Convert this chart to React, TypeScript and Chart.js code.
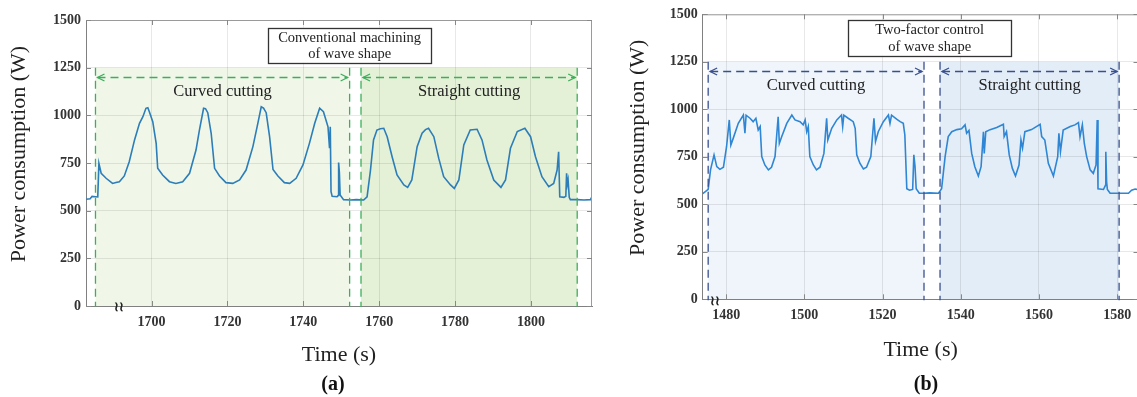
import React, { useEffect, useRef } from 'react';
import { Chart, registerables } from 'chart.js';

Chart.register(...registerables);

// ---------------- data ----------------
const leftTime = [
  1682.7, 1683.8, 1684.3, 1685.8, 1686.1, 1686.7, 1688.0, 1689.7, 1690.6, 1691.5, 1692.8, 1694.1, 1695.5, 1696.8,
  1697.7, 1698.5, 1699.0, 1699.4, 1700.3, 1701.2, 1701.6, 1702.9, 1704.7, 1706.4, 1708.2, 1710.0, 1711.7, 1712.6,
  1713.7, 1714.2, 1714.8, 1715.7, 1716.6, 1717.9, 1719.6, 1721.4, 1723.2, 1724.9, 1726.7, 1728.0, 1728.9, 1729.5,
  1730.2, 1731.1, 1732.0, 1733.3, 1735.0, 1736.4, 1738.1, 1739.9, 1741.6, 1743.0, 1744.3, 1745.3, 1746.5, 1746.9,
  1747.1, 1747.3, 1747.6, 1748.9, 1749.2, 1749.3, 1749.5, 1749.7, 1750.6, 1752.4, 1754.0, 1755.9, 1756.8, 1757.7,
  1758.5, 1759.4, 1760.3, 1761.2, 1762.1, 1763.4, 1764.7, 1766.5, 1767.5, 1768.6, 1770.0, 1771.3, 1772.2, 1773.0,
  1774.4, 1775.7, 1777.0, 1778.8, 1779.8, 1781.0, 1782.3, 1784.0, 1785.8, 1787.1, 1788.4, 1790.2, 1792.1, 1793.3,
  1794.6, 1796.4, 1798.4, 1799.9, 1801.2, 1802.9, 1804.7, 1806.0, 1806.9, 1807.3, 1807.6, 1808.7, 1809.2, 1809.4,
  1809.6, 1809.8, 1810.1, 1810.4, 1812.2, 1814.0, 1815.7, 1816.1,
];
const leftPower = [
  560, 562, 575, 572, 748, 696, 670, 643, 648, 652, 682, 757, 871, 958,
  993, 1037, 1040, 1019, 967, 853, 722, 687, 652, 643, 652, 696, 818, 923,
  1037, 1035, 1014, 906, 722, 682, 647, 643, 661, 713, 836, 958, 1045, 1038,
  1014, 888, 716, 682, 647, 643, 670, 740, 853, 958, 1037, 1019, 940, 827,
  940, 600, 575, 573, 580, 752, 700, 582, 558, 556, 558, 556, 573, 713,
  871, 923, 930, 932, 888, 783, 687, 635, 622, 661, 836, 906, 925, 932,
  888, 774, 678, 635, 617, 661, 845, 923, 927, 871, 766, 661, 622, 661,
  827, 915, 932, 888, 783, 678, 626, 643, 713, 809, 573, 570, 575, 696,
  640, 661, 570, 558, 558, 556, 558, 573,
];

const rightTime = [
  1474.0, 1474.6, 1475.4, 1476.0, 1476.9, 1477.6, 1478.4, 1479.3, 1480.1, 1480.8, 1481.2, 1481.8, 1483.1, 1484.4,
  1484.8, 1485.1, 1486.1, 1486.9, 1487.6, 1488.2, 1488.7, 1489.1, 1489.9, 1490.8, 1491.6, 1492.5, 1493.3, 1493.6,
  1494.2, 1495.5, 1496.8, 1497.6, 1498.9, 1499.7, 1500.2, 1500.6, 1501.0, 1501.4, 1502.3, 1503.1, 1504.0, 1505.0,
  1505.7, 1506.0, 1507.0, 1508.3, 1509.5, 1509.8, 1510.1, 1511.2, 1512.5, 1513.0, 1513.4, 1514.2, 1515.1, 1515.9,
  1517.0, 1517.8, 1518.2, 1518.9, 1520.2, 1521.5, 1521.9, 1522.3, 1523.6, 1524.5, 1525.3, 1525.7, 1526.2, 1526.9,
  1527.7, 1528.0, 1528.3, 1528.6, 1529.4, 1530.5, 1532.0, 1534.3, 1535.1, 1536.0, 1536.8, 1537.7, 1539.0, 1540.2,
  1541.1, 1541.5, 1542.1, 1542.8, 1543.6, 1544.5, 1545.2, 1545.8, 1546.0, 1546.4, 1547.5, 1549.2, 1550.9, 1551.1,
  1551.7, 1552.4, 1553.2, 1554.0, 1554.9, 1555.4, 1555.8, 1556.4, 1558.1, 1560.3, 1560.7, 1561.5, 1562.4, 1563.7,
  1564.8, 1565.1, 1565.5, 1566.2, 1568.0, 1569.2, 1570.1, 1570.5, 1571.1, 1571.6, 1572.2, 1573.1, 1573.9, 1574.6,
  1574.9, 1575.1, 1576.5, 1577.0, 1577.1, 1577.3, 1577.5, 1578.2, 1580.3, 1582.9, 1583.7, 1584.6, 1585.3,
];
const rightPower = [
  556, 566, 579, 681, 760, 698, 684, 695, 803, 944, 812, 847, 926, 970,
  874, 969, 953, 935, 953, 891, 909, 751, 707, 681, 695, 751, 961, 821,
  856, 926, 970, 944, 935, 918, 944, 882, 909, 751, 707, 681, 695, 768,
  953, 838, 900, 944, 970, 909, 969, 953, 935, 900, 760, 716, 686, 695,
  751, 953, 830, 882, 935, 970, 926, 969, 948, 935, 926, 865, 582, 574,
  578, 760, 700, 582, 558, 558, 560, 558, 582, 751, 856, 882, 893, 897,
  918, 874, 889, 768, 698, 649, 698, 882, 768, 882, 893, 904, 921, 856,
  882, 760, 689, 649, 707, 838, 795, 882, 893, 921, 856, 838, 716, 649,
  751, 874, 777, 891, 909, 918, 930, 856, 918, 821, 751, 681, 663, 707,
  944, 582, 578, 600, 777, 620, 578, 558, 558, 558, 574, 580, 578,
];

const leftXTicks = [1700, 1720, 1740, 1760, 1780, 1800];
const rightXTicks = [1480, 1500, 1520, 1540, 1560, 1580];
const yTicks = [0, 250, 500, 750, 1000, 1250, 1500];

const leftCurvedSpan = [1685.2, 1752.2];
const leftStraightSpan = [1755.2, 1812.2];
const rightCurvedSpan = [1475.4, 1530.6];
const rightStraightSpan = [1534.7, 1580.5];

const regionTop = 1250;
const arrowLevel = 1200;
const labelLevel = 1100;
const regionLabels = ['Curved cutting', 'Straight cutting'];
const leftBoxText = ['Conventional machining', 'of wave shape'];
const rightBoxText = ['Two-factor control', 'of wave shape'];
const yTitle = 'Power consumption (W)';
const xTitle = 'Time (s)';

// ---------------- styling / layout ----------------
const SERIF = "'Liberation Serif', 'Times New Roman', serif";

type Panel = {
  left: number;
  width: number;
  times: number[];
  power: number[];
  xTicks: number[];
  xMin: number;
  xMax: number;
  spans: number[][];
  spanFills: string[];
  dashColor: string;
  lineColor: string;
  boxText: string[];
  box: { t0: number; t1: number; v0: number; v1: number };
  tag: string;
  tagX: number;
  breakAt: number;
  yAxisWidth: number;
  padTop: number;
  padRight: number;
  xAxisHeight: number;
  yTitleX: number;
  xTitlePad: number;
};

const leftPanel: Panel = {
  left: 0,
  width: 600,
  times: leftTime,
  power: leftPower,
  xTicks: leftXTicks,
  xMin: 1682.7,
  xMax: 1816.1,
  spans: [leftCurvedSpan, leftStraightSpan],
  spanFills: ['#f0f7e8', '#e4f1d7'],
  dashColor: '#3dae5c',
  lineColor: '#2c7db8',
  boxText: leftBoxText,
  box: { t0: 1730.7, t1: 1773.7, v0: 1276, v1: 1460 },
  tag: '(a)',
  tagX: 333,
  breakAt: 1691.4,
  yAxisWidth: 86,
  padTop: 20,
  padRight: 8,
  xAxisHeight: 91,
  yTitleX: 19,
  xTitlePad: 29,
};

const rightPanel: Panel = {
  left: 600,
  width: 541,
  times: rightTime,
  power: rightPower,
  xTicks: rightXTicks,
  xMin: 1474.0,
  xMax: 1585.46,
  spans: [rightCurvedSpan, rightStraightSpan],
  spanFills: ['#eff5fb', '#e3edf7'],
  dashColor: '#3a4f8f',
  lineColor: '#2e86d4',
  boxText: rightBoxText,
  box: { t0: 1511.2, t1: 1552.9, v0: 1282, v1: 1470 },
  tag: '(b)',
  tagX: 326,
  breakAt: 1477.1,
  yAxisWidth: 102.7,
  padTop: 14.3,
  padRight: 2.5,
  xAxisHeight: 97.7,
  yTitleX: 38,
  xTitlePad: 34,
};

function decorPlugin(p: Panel) {
  return {
    id: 'decor',
    beforeDraw(chart: any) {
      const { ctx, scales } = chart;
      const x = scales.x;
      const y = scales.y;
      ctx.save();
      p.spans.forEach((s, i) => {
        const x0 = x.getPixelForValue(s[0]);
        const x1 = x.getPixelForValue(s[1]);
        const yt = y.getPixelForValue(regionTop);
        const yb = y.getPixelForValue(0);
        ctx.fillStyle = p.spanFills[i];
        ctx.fillRect(x0, yt, x1 - x0, yb - yt);
      });
      ctx.restore();
    },
    afterDraw(chart: any) {
      const { ctx, chartArea: a, scales } = chart;
      const x = scales.x;
      const y = scales.y;
      ctx.save();

      // frame (top / right) and inward ticks
      ctx.strokeStyle = '#9a9a9a';
      ctx.lineWidth = 1;
      ctx.beginPath();
      ctx.moveTo(a.left, a.top + 0.5);
      ctx.lineTo(a.right, a.top + 0.5);
      ctx.moveTo(a.right - 0.5, a.top);
      ctx.lineTo(a.right - 0.5, a.bottom);
      ctx.stroke();
      ctx.strokeStyle = '#888';
      ctx.beginPath();
      p.xTicks.forEach((v) => {
        const px = Math.round(x.getPixelForValue(v)) + 0.5;
        ctx.moveTo(px, a.bottom);
        ctx.lineTo(px, a.bottom - 5);
        ctx.moveTo(px, a.top);
        ctx.lineTo(px, a.top + 5);
      });
      yTicks.forEach((v) => {
        const py = Math.round(y.getPixelForValue(v)) + 0.5;
        ctx.moveTo(a.left, py);
        ctx.lineTo(a.left + 5, py);
        ctx.moveTo(a.right, py);
        ctx.lineTo(a.right - 5, py);
      });
      ctx.stroke();

      // dashed region boundaries and arrows
      const yTop = y.getPixelForValue(regionTop);
      const yArrow = Math.round(y.getPixelForValue(arrowLevel)) + 0.5;
      const yLabel = y.getPixelForValue(labelLevel);
      ctx.strokeStyle = p.dashColor;
      ctx.lineWidth = 1.3;
      p.spans.forEach((s, i) => {
        const x0 = x.getPixelForValue(s[0]);
        const x1 = x.getPixelForValue(s[1]);
        ctx.setLineDash([8, 5]);
        ctx.beginPath();
        ctx.moveTo(x0, yTop);
        ctx.lineTo(x0, a.bottom + 1);
        ctx.moveTo(x1, yTop);
        ctx.lineTo(x1, a.bottom + 1);
        ctx.moveTo(x0 + 2, yArrow);
        ctx.lineTo(x1 - 2, yArrow);
        ctx.stroke();
        ctx.setLineDash([]);
        ctx.beginPath();
        ctx.moveTo(x0 + 9, yArrow - 3.5);
        ctx.lineTo(x0 + 2, yArrow);
        ctx.lineTo(x0 + 9, yArrow + 3.5);
        ctx.moveTo(x1 - 9, yArrow - 3.5);
        ctx.lineTo(x1 - 2, yArrow);
        ctx.lineTo(x1 - 9, yArrow + 3.5);
        ctx.stroke();

        ctx.fillStyle = '#222';
        ctx.font = `16.5px ${SERIF}`;
        ctx.textAlign = 'center';
        ctx.textBaseline = 'alphabetic';
        ctx.fillText(regionLabels[i], (x0 + x1) / 2, yLabel);
      });

      // annotation box
      const bx0 = x.getPixelForValue(p.box.t0);
      const bx1 = x.getPixelForValue(p.box.t1);
      const by0 = y.getPixelForValue(p.box.v1);
      const by1 = y.getPixelForValue(p.box.v0);
      ctx.fillStyle = '#ffffff';
      ctx.fillRect(bx0, by0, bx1 - bx0, by1 - by0);
      ctx.strokeStyle = '#333';
      ctx.lineWidth = 1.3;
      ctx.strokeRect(Math.round(bx0) + 0.5, Math.round(by0) + 0.5, Math.round(bx1 - bx0), Math.round(by1 - by0));
      ctx.fillStyle = '#222';
      ctx.font = `14.5px ${SERIF}`;
      ctx.textAlign = 'center';
      ctx.textBaseline = 'alphabetic';
      ctx.fillText(p.boxText[0], (bx0 + bx1) / 2, by0 + 14);
      ctx.fillText(p.boxText[1], (bx0 + bx1) / 2, by0 + 30.5);

      // y-axis title (drawn here for exact vertical placement)
      ctx.save();
      ctx.translate(p.yTitleX, (a.top + a.bottom) / 2 - 9);
      ctx.rotate(-Math.PI / 2);
      ctx.font = `22px ${SERIF}`;
      ctx.fillStyle = '#222';
      ctx.textAlign = 'center';
      ctx.textBaseline = 'middle';
      ctx.fillText(yTitle, 0, 0);
      ctx.restore();

      // axis break mark
      ctx.font = `bold 13px 'DejaVu Serif', serif`;
      ctx.textAlign = 'center';
      ctx.textBaseline = 'middle';
      ctx.fillStyle = '#222';
      ctx.fillText('≀≀', x.getPixelForValue(p.breakAt), a.bottom + 2);

      // panel tag
      ctx.font = `bold 20px ${SERIF}`;
      ctx.fillStyle = '#111';
      ctx.fillText(p.tag, p.tagX, 385);

      ctx.restore();
    },
  };
}

function PanelChart({ p }: { p: Panel }) {
  const ref = useRef<HTMLCanvasElement>(null);
  useEffect(() => {
    if (!ref.current) return;
    const gridColor = 'rgba(0,0,0,0.09)';
    const tickFont = { family: SERIF, size: 14, weight: 'bold' as const };
    const chart = new Chart(ref.current, {
      type: 'line',
      data: {
        datasets: [
          {
            data: p.times.map((t, i) => ({ x: t, y: p.power[i] })),
            borderColor: p.lineColor,
            borderWidth: 1.6,
            pointRadius: 0,
            tension: 0,
            fill: false,
          },
        ],
      },
      options: {
        animation: false,
        responsive: false,
        maintainAspectRatio: false,
        events: [],
        layout: { padding: { left: 0, top: p.padTop, right: p.padRight, bottom: 0 } },
        plugins: { legend: { display: false }, tooltip: { enabled: false } },
        scales: {
          x: {
            type: 'linear',
            min: p.xMin,
            max: p.xMax,
            afterBuildTicks: (s: any) => {
              s.ticks = p.xTicks.map((v) => ({ value: v }));
            },
            afterFit: (s: any) => {
              s.height = p.xAxisHeight;
            },
            grid: { color: gridColor, drawTicks: false },
            border: { color: '#808080', width: 1 },
            ticks: {
              autoSkip: false,
              maxRotation: 0,
              padding: 8,
              color: '#333',
              font: tickFont,
              callback: (v: any) => String(v),
            },
            title: {
              display: true,
              text: xTitle,
              color: '#222',
              font: { family: SERIF, size: 22 },
              padding: { top: 0, bottom: p.xTitlePad },
            },
          },
          y: {
            type: 'linear',
            min: 0,
            max: 1500,
            afterBuildTicks: (s: any) => {
              s.ticks = yTicks.map((v) => ({ value: v }));
            },
            afterFit: (s: any) => {
              s.width = p.yAxisWidth;
            },
            grid: { color: gridColor, drawTicks: false },
            border: { color: '#808080', width: 1 },
            ticks: {
              padding: 5,
              color: '#333',
              font: tickFont,
              callback: (v: any) => String(v),
            },
            title: { display: false },
          },
        },
      },
      plugins: [decorPlugin(p)],
    } as any);
    return () => chart.destroy();
  }, [p]);
  return (
    <canvas
      ref={ref}
      width={p.width}
      height={397}
      style={{ position: 'absolute', left: p.left, top: 0, width: p.width, height: 397 }}
    />
  );
}

export default function App() {
  return (
    <div
      style={{
        position: 'absolute',
        left: 0,
        top: 0,
        width: 1137,
        height: 397,
        overflow: 'hidden',
        background: '#ffffff',
      }}
    >
      <PanelChart p={leftPanel} />
      <PanelChart p={rightPanel} />
    </div>
  );
}
